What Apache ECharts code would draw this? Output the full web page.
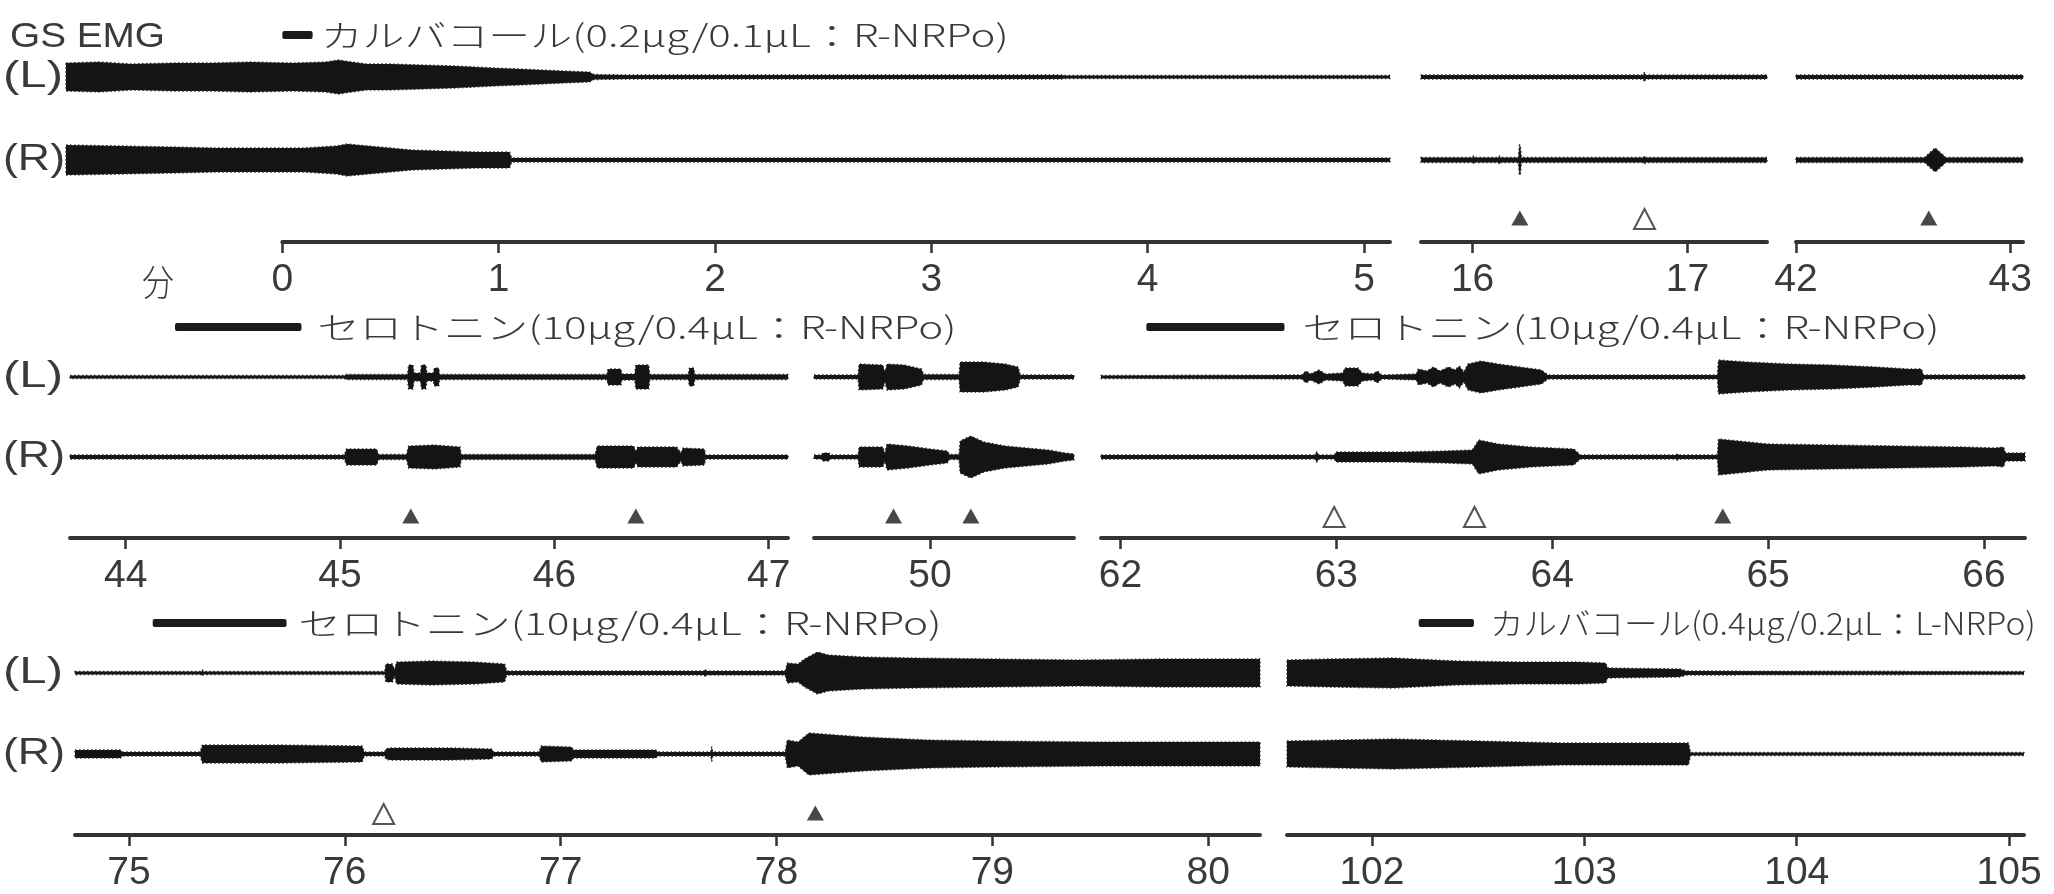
<!DOCTYPE html>
<html><head><meta charset="utf-8">
<script src="https://cdn.jsdelivr.net/npm/echarts@6/dist/echarts.min.js"></script>
<style>html,body{margin:0;padding:0;background:#fff}#c{width:2054px;height:894px}</style>
</head><body><div id="c"></div>
<script>
// ================= DATA (minutes; EMG envelope half-amplitude in arbitrary units) =================
const segRanges  = [[-1.0,5.12],[15.76,17.37],[42.0,43.06],[43.74,47.09],[49.46,50.67],[61.91,66.19],[74.75,80.24],[101.6,105.07]];
const axisRanges = [[0,5.12],[15.76,17.37],[42.0,43.06],[43.74,47.09],[49.46,50.67],[61.91,66.19],[74.75,80.24],[101.6,105.07]];
const tickLabels = [[0,1,2,3,4,5],[16,17],[42,43],[44,45,46,47],[50],[62,63,64,65,66],[75,76,77,78,79,80],[102,103,104,105]];

const filledMarkers = [16.22, 42.62, 45.33, 46.38, 49.83, 50.19, 64.79, 78.18];
const openMarkers   = [16.80, 62.99, 63.64, 76.18];

const drugLabels = ['カルバコール(0.2μg/0.1μL：R-NRPo)','セロトニン(10μg/0.4μL：R-NRPo)','セロトニン(10μg/0.4μL：R-NRPo)','セロトニン(10μg/0.4μL：R-NRPo)','カルバコール(0.4μg/0.2μL：L-NRPo)'];
const drugBars   = [[0,0.14],[44.23,44.82],[62.12,62.76],[75.11,75.73],[102.22,102.48]];

const envL0 = [[-1.0,14],[-0.85,15],[-0.7,13],[-0.5,14],[-0.33,14],[-0.15,15],[0.05,14],[0.2,15],[0.26,17],[0.32,15],[0.39,13],[0.5,13],[0.65,12],[0.8,11],[0.98,9],[1.1,8],[1.2,7],[1.3,6],[1.42,5],[1.44,2.5],[1.6,2],[3.6,2],[3.62,1.5],[5.12,1.5]];
const envR0 = [[-1.0,15],[-0.75,14],[-0.5,13],[-0.3,12],[-0.1,12],[0.1,12],[0.25,14],[0.3,16],[0.4,14],[0.5,12],[0.6,10],[0.75,9],[0.9,8],[1.05,8],[1.06,2],[5.12,2]];
const envL1 = [[15.76,2],[16.795,2],[16.8,5],[16.805,2],[17.37,2]];
const envR1 = [[15.76,2.5],[16.0,2.5],[16.005,4],[16.01,2.5],[16.12,2.5],[16.125,4],[16.13,2.5],[16.213,2.5],[16.218,15],[16.222,15],[16.227,2.5],[16.795,2.5],[16.8,4],[16.805,2.5],[17.37,2.5]];
const envL2 = [[42.0,2],[43.06,2]];
const envR2 = [[42.0,2.5],[42.6,2.5],[42.65,12],[42.7,2.5],[43.06,2.5]];
const envL3 = [[43.74,1.5],[45.02,1.5],[45.03,2.5],[45.315,2.5],[45.32,12],[45.34,12],[45.345,4],[45.375,4],[45.38,12],[45.40,12],[45.405,4],[45.435,4],[45.44,9],[45.46,9],[45.465,2.5],[46.245,2.5],[46.25,8],[46.31,8],[46.315,3],[46.375,3],[46.38,12],[46.44,12],[46.445,2.5],[46.625,2.5],[46.63,9],[46.65,9],[46.655,2.5],[47.09,2.5]];
const envR3 = [[43.74,2],[45.02,2],[45.03,8],[45.17,8],[45.18,2.5],[45.31,2.5],[45.32,11],[45.44,12],[45.56,10],[45.565,2.5],[46.19,2.5],[46.2,11],[46.37,11],[46.38,6],[46.39,10],[46.57,10],[46.59,4],[46.6,9],[46.7,8],[46.705,2],[47.09,2]];
const envL4 = [[49.46,2],[49.665,2],[49.67,13],[49.78,12],[49.79,5],[49.80,13],[49.88,12],[49.96,8],[49.97,2.5],[50.135,2.5],[50.14,15],[50.25,15],[50.35,13],[50.41,10],[50.42,2],[50.67,2]];
const envR4 = [[49.46,2],[49.495,2],[49.5,4],[49.53,4],[49.535,2],[49.665,2],[49.67,10],[49.78,10],[49.79,4],[49.80,13],[49.9,11],[50.0,8],[50.08,6],[50.09,2.5],[50.135,2.5],[50.14,16],[50.19,21],[50.25,15],[50.35,11],[50.45,9],[50.55,7],[50.63,4],[50.67,3]];
const envL5 = [[61.91,1.5],[62.84,2],[62.86,6],[62.88,3],[62.92,7],[62.95,3],[63.03,4],[63.04,9],[63.10,9],[63.12,4],[63.17,3],[63.19,6],[63.21,2],[63.37,3],[63.38,8],[63.42,6],[63.45,10],[63.48,6],[63.52,10],[63.55,7],[63.57,11],[63.59,5],[63.61,13],[63.67,16],[63.75,13],[63.85,10],[63.95,7],[63.98,2],[64.765,2],[64.77,17],[64.9,15],[65.1,13],[65.3,12],[65.5,10],[65.65,8],[65.71,8],[65.72,2],[66.19,2]];
const envR5 = [[61.91,2],[62.9,2],[62.91,5],[62.92,2],[62.99,2],[63.0,5],[63.1,5],[63.3,5],[63.5,6],[63.63,7],[63.66,17],[63.75,13],[63.9,10],[64.1,8],[64.13,2],[64.57,2],[64.58,3],[64.59,2],[64.765,2],[64.77,18],[65.0,13],[65.3,12],[65.6,11],[65.9,10],[66.05,9],[66.09,10],[66.1,4],[66.19,4]];
const envL6 = [[74.75,1.5],[75.335,1.5],[75.34,3],[75.345,1.5],[76.185,1.5],[76.19,9],[76.22,9],[76.23,3],[76.24,11],[76.4,12],[76.6,11],[76.74,9],[76.75,2],[77.665,2],[77.67,4],[77.675,2],[78.04,2],[78.05,10],[78.1,9],[78.13,14],[78.19,21],[78.24,18],[78.4,16],[78.63,15],[79.01,14],[79.4,13],[79.78,14],[80.24,14]];
const envR6 = [[74.75,4],[74.96,4],[74.97,2],[75.33,2],[75.34,9],[75.7,9],[76.08,8],[76.09,2],[76.185,2],[76.19,5],[76.21,6],[76.5,6],[76.68,5],[76.69,2],[76.9,2],[76.91,8],[77.05,7],[77.06,4],[77.44,4],[77.45,2],[77.695,2],[77.7,7],[77.705,2],[78.04,2],[78.05,14],[78.1,12],[78.15,21],[78.4,17],[78.7,14],[79.0,13],[79.5,12],[80.0,12],[80.24,12]];
const envL7 = [[101.6,13],[101.8,14],[102.1,15],[102.4,12],[102.7,11],[102.97,11],[103.1,10],[103.11,5],[103.45,4],[103.48,2],[105.07,1.5]];
const envR7 = [[101.6,13],[102.1,15],[102.5,13],[102.9,11],[103.3,11],[103.49,11],[103.5,1.5],[105.07,1.5]];

const envLeft  = [envL0,envL1,envL2,envL3,envL4,envL5,envL6,envL7];
const envRight = [envR0,envR1,envR2,envR3,envR4,envR5,envR6,envR7];

// ================= LAYOUT =================
const rows = [
  {L:77,  R:160, mark:24, axis:242, titleOff:42},
  {L:377, R:457, mark:22, axis:538, titleOff:50},
  {L:673, R:754, mark:22, axis:835, titleOff:50}
];
const segLayout = [[0,66,1390],[0,1421,1767],[0,1796,2023],[1,70,788],[1,814,1074],[1,1101,2025],[2,75,1260],[2,1287,2024]];
const drugLayout = [{seg:0,gap:8,w:688},{seg:3,gap:16,w:639},{seg:5,gap:18,w:637},{seg:6,gap:12,w:643},{seg:7,gap:16,w:546}];

const INK = '#141414', TXT = '#3a3a3a';
const CJK = "'Noto Sans CJK JP'";
const mctx = document.createElement('canvas').getContext('2d');
function tw(str, size, fam, weight){ mctx.font = (weight||'normal')+' '+size+'px '+fam; return mctx.measureText(str).width; }

const grids=[], xAxes=[], yAxes=[], series=[];
function addGrid(g, x, y){ const i = grids.length; grids.push(Object.assign({outerBoundsMode:'none', containLabel:false}, g)); x.gridIndex=i; y.gridIndex=i; xAxes.push(x); yAxes.push(y); return i; }
const hiddenY = (mn,mx)=>({type:'value', min:mn, max:mx, show:false});
const hiddenX = (mn,mx)=>({type:'value', min:mn, max:mx, show:false});

function envSeries(env, gi){
  return {type:'custom', xAxisIndex:gi, yAxisIndex:gi, data:env, silent:true, animation:false, clip:false,
    renderItem:function(params, api){
      if (params.dataIndex !== 0) return null;
      const up = env.map(p=>api.coord([p[0], p[1]]));
      const dn = env.map(p=>api.coord([p[0], -p[1]])).reverse();
      return {type:'polygon', shape:{points:up.concat(dn)},
        style:{fill:INK, stroke:'#262626', lineWidth:1.4, lineDash:[1.5,2.5], lineJoin:'round'}};
    }};
}

const lGridOfSeg = [];
segRanges.forEach((rg,i)=>{
  const [row,l,r] = segLayout[i]; const R = rows[row];
  const ppm = (r-l)/(rg[1]-rg[0]);
  const gL = addGrid({left:l, width:r-l, top:R.L-25, height:50}, hiddenX(rg[0],rg[1]), hiddenY(-25,25));
  const gR = addGrid({left:l, width:r-l, top:R.R-25, height:50}, hiddenX(rg[0],rg[1]), hiddenY(-25,25));
  lGridOfSeg.push(gL);
  series.push(envSeries(envLeft[i], gL));
  series.push(envSeries(envRight[i], gR));
  const ar = axisRanges[i];
  const al = l + (ar[0]-rg[0])*ppm, arr = l + (ar[1]-rg[0])*ppm;
  const gA = addGrid({left:al, width:arr-al, top:R.axis-40, height:40},
    {type:'value', min:ar[0], max:ar[1],
      axisLine:{show:true, onZero:false, lineStyle:{color:'#333', width:4}},
      axisTick:{show:true, customValues:tickLabels[i], length:11, lineStyle:{color:'#333', width:2.5}},
      axisLabel:{show:true, customValues:tickLabels[i], showMinLabel:true, showMaxLabel:true, margin:19,
        fontFamily:'Liberation Sans', fontSize:39, color:TXT},
      splitLine:{show:false}},
    hiddenY(0,40));
  const inSeg = t => t>=ar[0] && t<=ar[1];
  series.push({type:'scatter', xAxisIndex:gA, yAxisIndex:gA, silent:true, animation:false,
    symbol:'triangle', symbolSize:[17,15], itemStyle:{color:'#1a1a1a'},
    data: filledMarkers.filter(inSeg).map(t=>[t, R.mark])});
  series.push({type:'scatter', xAxisIndex:gA, yAxisIndex:gA, silent:true, animation:false,
    symbol:'triangle', symbolSize:[21,20], itemStyle:{color:'#fff', borderColor:'#2a2a2a', borderWidth:2},
    data: openMarkers.filter(inSeg).map(t=>[t, R.mark - 1])});
});

// drug application bars + labels, placed through the L-trace axes
drugBars.forEach((b,k)=>{
  const D = drugLayout[k]; const seg = D.seg; const row = segLayout[seg][0]; const off = rows[row].titleOff;
  const label = drugLabels[k];
  const natural = tw(label, 31, CJK, '300');
  series.push({type:'custom', xAxisIndex:lGridOfSeg[seg], yAxisIndex:lGridOfSeg[seg], silent:true, animation:false, clip:false,
    data:[b],
    renderItem:function(params, api){
      const p0 = api.coord([api.value(0), off]);
      const p1 = api.coord([api.value(1), off]);
      return {type:'group', children:[
        {type:'rect', shape:{x:p0[0], y:p0[1]-4, width:p1[0]-p0[0], height:8, r:2}, style:{fill:'#1a1a1a'}},
        {type:'text', x:p1[0]+D.gap, y:p0[1], scaleX:D.w/natural,
          style:{text:label, fontFamily:CJK, fontSize:31, fontWeight:300, fill:TXT, align:'left', verticalAlign:'middle'}}
      ]};
    }});
});

// static labels
const graphic = [];
function addText(str, x, y, size, fam, width, weight){
  const nat = tw(str, size, fam, weight||'normal');
  graphic.push({type:'text', x:x, y:y, scaleX: width/nat, silent:true,
    style:{text:str, fontFamily:fam, fontSize:size, fontWeight:weight||'normal', fill:TXT, align:'left', verticalAlign:'middle'}});
}
addText('GS EMG', 10, 37, 35, "'Liberation Sans'", 155);
rows.forEach(R=>{
  addText('(L)', 3, R.L, 36, "'Liberation Sans'", 60);
  addText('(R)', 3, R.R, 36, "'Liberation Sans'", 62);
});
addText('分', 142, 282, 36, CJK, 32, '300');

const chart = echarts.init(document.getElementById('c'), null, {renderer:'canvas'});
chart.setOption({backgroundColor:'#fff', animation:false, grid:grids, xAxis:xAxes, yAxis:yAxes, series:series, graphic:graphic});
</script></body></html>
